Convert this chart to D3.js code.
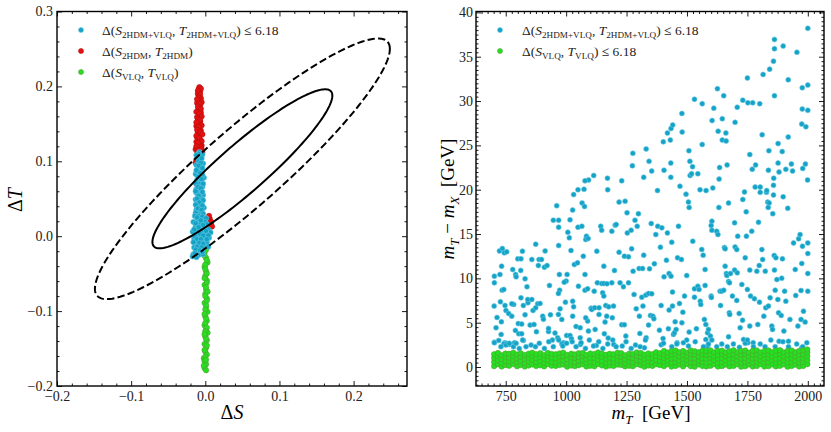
<!DOCTYPE html>
<html>
<head>
<meta charset="utf-8">
<script src="https://cdn.jsdelivr.net/npm/d3@7"></script>
<style>
body { margin: 0; background: #fff; }
text { font-family: "Liberation Serif", "DejaVu Serif", serif; white-space: pre; }
</style>
</head>
<body>
<svg id="chart" width="831" height="432"></svg>
<script>
// ---- left panel: oblique parameters S, T ----
// fit ellipse (centre, sigmas, correlation), chi2 levels: solid 2.30, dashed 6.18
var ellipseCenter = [0.05, 0.09];
var ellipseSigma = [0.08, 0.07];
var ellipseRho = 0.92;
var ellipseLevels = [2.30, 6.18];

var stRed = [[-0.008,0.199],[-0.009,0.196],[-0.007,0.193],[-0.010,0.190],[-0.008,0.187],[-0.006,0.184],[-0.009,0.181],[-0.011,0.178],
  [-0.007,0.175],[-0.009,0.172],[-0.010,0.168],[-0.006,0.165],[-0.008,0.162],[-0.011,0.159],[-0.009,0.156],[-0.007,0.153],[-0.010,0.150],
  [-0.012,0.147],[-0.008,0.144],[-0.006,0.141],[-0.010,0.138],[-0.009,0.135],[-0.011,0.132],[-0.007,0.129],[-0.012,0.126],[-0.008,0.123],
  [-0.005,0.121],[-0.010,0.118],[-0.013,0.116],[-0.007,0.114],[-0.004,0.112],[-0.011,0.110],[-0.008,0.106],[-0.012,0.102],[-0.006,0.098],
  [-0.013,0.098],[-0.010,0.085],[-0.012,0.070],[-0.009,0.055],[-0.011,0.040],[-0.008,0.025],[-0.006,0.010],[0.006,0.023],[0.008,0.019],
  [0.007,0.015],[0.005,0.027],[0.009,0.013],
  [-0.006,0.197],[-0.010,0.194],[-0.007,0.189],[-0.009,0.185],[-0.011,0.183],[-0.005,0.179],[-0.008,0.177],[-0.010,0.173],[-0.006,0.170],
  [-0.012,0.166],[-0.008,0.164],[-0.005,0.160],[-0.010,0.157],[-0.007,0.155],[-0.012,0.152],[-0.005,0.148],[-0.009,0.146],[-0.011,0.142],
  [-0.007,0.139],[-0.004,0.136],[-0.012,0.134],[-0.008,0.131],[-0.005,0.127],[-0.010,0.125],[-0.006,0.119],[-0.012,0.120],[-0.009,0.115],
  [-0.005,0.116]];

var stGreen = [[0.000,-0.008],[0.002,-0.015],[-0.001,-0.022],[0.001,-0.029],[0.003,-0.035],[-0.001,-0.041],[0.001,-0.047],[0.000,-0.053],
  [0.002,-0.059],[-0.001,-0.065],[0.001,-0.071],[0.000,-0.077],[0.002,-0.083],[-0.001,-0.089],[0.001,-0.095],[0.003,-0.101],[0.000,-0.107],
  [0.002,-0.113],[-0.001,-0.119],[0.001,-0.124],[0.003,-0.129],[0.000,-0.134],[0.002,-0.139],[-0.001,-0.144],[0.001,-0.149],[0.000,-0.154],
  [0.002,-0.158],[-0.002,-0.163],[-0.001,-0.167],[0.001,-0.171],[-0.001,-0.176],[0.001,-0.179],[0.001,-0.012],[0.000,-0.038],[0.002,-0.062],
  [0.001,-0.092],[0.000,-0.116],[0.002,-0.122],[-0.001,-0.152],
  [0.001,-0.018],[-0.001,-0.026],[0.002,-0.032],[0.000,-0.044],[0.002,-0.050],[-0.001,-0.056],[0.001,-0.068],[0.003,-0.074],[0.000,-0.080],
  [0.002,-0.086],[0.000,-0.098],[-0.001,-0.104],[0.001,-0.110],[0.000,-0.127],[-0.001,-0.131],[0.001,-0.137],[0.002,-0.146],[0.000,-0.161],
  [0.001,-0.165],[-0.002,-0.173]];

var stBlue = [[-0.008,0.112],[-0.004,0.109],[-0.011,0.106],[-0.006,0.103],[-0.009,0.100],[-0.003,0.097],[-0.012,0.095],[-0.007,0.092],
  [-0.010,0.089],[-0.005,0.086],[-0.013,0.083],[-0.008,0.080],[-0.002,0.078],[-0.011,0.075],[-0.006,0.072],[-0.009,0.069],[-0.004,0.066],
  [-0.012,0.063],[-0.007,0.060],[-0.010,0.057],[-0.003,0.055],[-0.008,0.052],[-0.013,0.049],[-0.005,0.046],[-0.010,0.043],[-0.007,0.040],
  [-0.002,0.038],[-0.012,0.035],[-0.006,0.032],[-0.009,0.030],[-0.009,0.110],[-0.006,0.098],[-0.011,0.087],[-0.004,0.082],[-0.008,0.070],
  [-0.012,0.058],[-0.005,0.050],[-0.008,0.036],
  [-0.012,0.108],[-0.005,0.104],[-0.009,0.094],[-0.004,0.091],[-0.012,0.088],[-0.007,0.084],[-0.010,0.079],[-0.005,0.076],[-0.013,0.071],
  [-0.003,0.070],[-0.010,0.066],[-0.006,0.064],[-0.013,0.060],[-0.004,0.059],[-0.009,0.054],[-0.011,0.050],[-0.003,0.048],[-0.008,0.045],
  [-0.013,0.042],[-0.004,0.041],[-0.010,0.037],[-0.005,0.035],[-0.013,0.031],[-0.003,0.030],[-0.009,0.027],
  [-0.014,0.027],[-0.004,0.026],[0.001,0.024],[-0.010,0.022],[-0.016,0.019],[0.000,0.019],[0.002,0.016],[-0.007,0.016],[-0.013,0.013],
  [-0.002,0.012],[0.004,0.009],[-0.010,0.008],[-0.017,0.006],[-0.005,0.006],[0.007,0.005],[0.001,0.003],[-0.012,0.001],[-0.008,-0.001],
  [-0.015,-0.003],[-0.002,-0.003],[0.005,-0.002],[-0.010,-0.006],[-0.005,-0.008],[0.002,-0.008],[-0.013,-0.010],[-0.008,-0.013],
  [-0.001,-0.013],[0.004,-0.014],[-0.015,-0.015],[-0.010,-0.018],[-0.004,-0.018],[-0.012,-0.021],[-0.006,-0.022],[-0.016,-0.024],
  [-0.009,-0.025],[-0.003,-0.024],[-0.017,-0.027],[-0.012,-0.028],
  [-0.011,0.025],[-0.006,0.021],[-0.013,0.017],[-0.003,0.015],[-0.009,0.012],[-0.015,0.009],[0.001,0.007],[-0.007,0.003],[-0.003,0.001],
  [0.004,0.001],[-0.014,0.000],[-0.011,-0.004],[-0.006,-0.004],[0.002,-0.004],[-0.016,-0.008],[-0.008,-0.009],[-0.003,-0.010],
  [-0.011,-0.014],[-0.005,-0.015],[-0.013,-0.018],[-0.007,-0.019],[-0.014,-0.023],[-0.004,-0.021]];

var stXTicks = [-0.2, -0.1, 0.0, 0.1, 0.2];
var stYTicks = [-0.2, -0.1, 0.0, 0.1, 0.2, 0.3];

// ---- right panel: mass splitting m_T - m_X vs m_T ----
var massBlue = [[2000,38.2],[1862,36.95],[1862,35.9],[1898,36.2],[1858,34.5],[1842,33.6],[1815,33.0],[1955,35.5],[1862,30.6],[1750,32.6],
  [1919,32.4],[1977,31.5],[2000,31.8],[1977,29.1],[2000,28.95],[1975,27.4],[1992,27.1],[1626,31.4],[1652,30.6],[1531,30.2],[1563,29.7],
  [1731,30.1],[1752,29.8],[1772,29.8],[1801,29.7],[1708,29.3],[1611,29.2],[1479,28.6],[1604,27.8],[1646,28.0],[1699,27.6],[1629,26.6],
  [1661,26.4],[1646,25.6],[1662,25.5],[1480,26.5],[1434,26.9],[1441,27.3],[1419,26.4],[1431,25.6],[1402,25.4],[1811,26.2],[1919,25.95],
  [1877,25.2],[1894,24.3],[1839,24.4],[1760,23.96],[1563,25.1],[1276,24.1],[1331,24.6],[1274,22.7],[1343,23.2],[1354,22.1],[1321,21.4],
  [1508,24.4],[1512,23.2],[1523,22.6],[1513,21.6],[1519,21.8],[1545,21.8],[1433,23.0],[1433,21.4],[1405,22.2],[1635,22.5],[1666,22.8],
  [1633,21.2],[1770,22.3],[1784,22.8],[1877,23.0],[1881,22.0],[1859,21.3],[1909,22.3],[1932,22.9],[1937,22.1],[1990,22.9],[1979,22.4],
  [1999,21.1],[1837,22.2],[1171,21.3],[1172,20.0],[1230,21.0],[1114,21.6],[1093,21.1],[1078,21.0],[1074,20.05],[1049,20.0],[1031,19.45],
  [1027,17.7],[1066,18.5],[1076,18.1],[961,18.2],[1219,18.6],[1244,18.7],[1252,17.4],[1299,17.3],[1378,19.9],[1471,20.4],[1496,19.5],
  [1506,18.6],[1509,18.0],[1554,20.0],[1579,19.9],[1607,20.2],[1632,18.0],[1672,18.5],[1731,18.9],[1738,19.75],[1745,17.5],[1782,20.3],
  [1803,19.7],[1803,20.3],[1829,19.7],[1830,19.9],[1834,18.6],[1840,18.5],[1836,18.0],[1858,19.4],[1855,17.3],[1858,20.5],[1898,19.2],
  [1917,17.9],
  [703,10.25],[703,9.5],[702,6.87],[714,5.59],[710,4.43],[703,2.8],[724,13.1],[736,13.37],[744,12.88],[733,11.38],[726,10.44],[735,8.67],
  [742,8.75],[728,7.36],[732,5.1],[731,3.68],[747,6.94],[751,6.38],[762,6.04],[775,5.74],[754,12.99],[746,2.74],[754,2.66],[742,2.6],
  [765,2.55],[786,2.74],[779,11.0],[791,10.44],[793,10.17],[800,12.2],[813,12.2],[819,13.07],[790,4.13],[802,4.9],[804,3.75],[783,7.06],
  [775,7.13],[812,10.9],[813,7.8],[823,6.94],[816,4.84],[816,3.75],[823,3.0],[830,9.95],[838,9.05],[842,7.25],[841,7.62],[830,5.89],
  [851,4.73],[858,7.62],[858,12.13],[874,13.86],[867,4.8],[863,6.38],[874,6.68],[877,3.98],[882,7.13],[885,11.45],[888,12.13],[892,7.17],
  [898,12.13],[903,5.74],[906,5.4],[913,13.1],[910,11.26],[921,11.45],[927,4.0],[927,4.35],[931,9.2],[935,5.89],[943,3.04],[947,16.56],
  [969,16.56],[969,15.77],[969,13.7],[972,10.44],[973,8.67],[968,8.3],[975,6.57],[968,5.93],[982,5.37],[954,3.83],[965,3.3],[989,2.74],
  [982,2.62],[997,7.32],[1000,9.69],[1004,10.44],[992,9.57],[1007,15.2],[1013,14.57],[1016,16.6],[1020,13.14],[1002,3.56],[1016,3.56],
  [1022,3.19],[1027,7.43],[1031,6.79],[1034,11.56],[1027,5.74],[1047,11.75],[1041,4.58],[1051,9.12],[1049,15.77],[1065,15.88],[1058,4.43],
  [1059,2.55],[1058,3.3],[1071,12.5],[1078,10.44],[1081,14.38],[1084,14.76],[1091,14.49],[1078,8.67],[1089,8.82],[1089,5.18],[1081,5.55],
  [1092,4.05],[1103,6.64],[1106,6.49],[1118,6.68],[1127,13.07],[1129,9.5],[1116,8.56],[1120,4.24],[1125,2.44],[1136,6.68],[1136,5.93],
  [1143,15.88],[1147,15.43],[1147,9.42],[1151,8.37],[1156,8.0],[1156,11.38],[1156,9.42],[1161,5.07],[1168,5.74],[1169,9.39],[1164,6.94],
  [1176,6.79],[1158,3.75],[1174,3.26],[1189,15.32],[1189,9.5],[1191,5.55],[1196,6.87],[1200,10.89],[1197,2.55],[1203,16.0],[1207,16.07],
  [1219,12.95],[1223,9.5],[1230,4.77],[1241,4.77],[1237,9.05],[1241,12.5],[1247,3.49],[1258,9.5],[1258,12.43],[1253,15.13],[1269,15.43],
  [1271,13.33],[1277,10.81],[1281,8.18],[1285,16.56],[1294,15.88],[1290,6.57],[1302,11.11],[1303,5.74],[1305,3.79],[1316,11.11],[1313,7.88],
  [1318,6.87],[1321,12.62],[1324,2.17],[1330,8.11],[1331,3.3],[1341,8.3],[1341,4.73],[1349,5.82],[1352,16.18],[1345,11.08],[1354,8.26],
  [1359,5.74],[1363,5.44],[1365,11.64],[1371,14.94],[1379,15.88],[1386,4.16],[1390,13.52],[1393,6.94],[1396,15.7],[1393,2.51],[1401,3.22],
  [1405,10.17],[1415,12.05],[1419,15.13],[1426,6.42],[1423,4.32],[1426,10.55],[1434,10.25],[1440,8.45],[1440,6.87],[1437,14.08],[1444,3.68],
  [1448,3.86],[1451,5.1],[1455,4.24],[1459,2.74],[1461,12.32],[1465,15.88],[1469,7.17],[1477,12.13],[1479,4.99],[1483,6.19],[1490,8.0],
  [1499,10.32],[1499,3.04],[1509,3.94],[1524,14.19],[1531,7.88],[1531,8.82],[1539,4.32],[1545,9.12],[1550,8.75],[1555,7.43],[1557,7.06],
  [1561,13.26],[1567,12.62],[1572,5.37],[1575,9.2],[1575,11.0],[1578,4.8],[1585,2.36],[1578,3.11],[1585,3.86],[1589,4.24],[1600,8.0],
  [1601,7.85],[1603,16.45],[1603,15.43],[1600,15.96],[1597,3.49],[1623,15.32],[1628,14.94],[1637,8.56],[1644,8.56],[1639,6.94],[1652,8.67],
  [1655,13.48],[1658,13.33],[1658,11.38],[1663,10.55],[1665,10.32],[1672,9.65],[1675,6.12],[1672,3.41],[1677,5.93],[1676,9.5],[1680,10.55],
  [1688,8.0],[1697,10.93],[1697,16.26],[1699,13.55],[1706,13.25],[1706,7.51],[1710,14.76],[1708,10.62],[1716,6.04],[1720,4.43],[1727,9.31],
  [1730,5.29],[1734,3.11],[1741,12.32],[1746,14.76],[1750,8.75],[1752,2.74],[1760,10.93],[1760,4.62],[1763,8.0],[1768,15.32],[1774,2.74],
  [1779,7.7],[1789,10.81],[1793,4.8],[1796,16.33],[1799,11.45],[1800,7.32],[1810,13.25],[1824,10.81],[1813,12.13],[1818,5.74],[1826,6.68],
  [1837,6.87],[1844,7.81],[1851,4.62],[1854,4.24],[1861,12.58],[1868,12.32],[1862,10.93],[1872,9.87],[1876,7.62],[1865,8.67],[1879,6.12],
  [1881,2.9],[1890,5.82],[1892,10.02],[1895,12.2],[1901,4.05],[1904,8.56],[1909,7.43],[1920,2.9],[1926,5.37],[1941,14.0],[1948,11.0],
  [1950,8.07],[1959,4.62],[1962,14.46],[1968,14.94],[1972,8.63],[1975,11.68],[1978,13.63],[1982,6.3],[1972,5.37],[1989,5.07],[2000,14.0],
  [2000,12.8],[2000,10.55],[2000,8.56],[1975,2.17],
  [703,2.74],[721,3.0],[730,2.3],[751,2.48],[765,2.67],[782,2.3],[793,2.67],[806,2.1],[820,3.04],[834,2.3],[855,2.48],[873,2.3],[889,2.67],
  [910,2.1],[928,2.86],[947,2.3],[969,3.04],[986,2.37],[1002,2.67],[1025,2.86],[1041,2.3],[1062,2.74],[1080,2.1],[1096,3.04],[1113,2.37],
  [1135,2.86],[1152,2.1],[1172,2.6],[1193,3.04],[1207,2.3],[1232,2.37],[1248,2.86],[1269,2.1],[1287,2.48],[1306,2.3],[1328,3.04],[1403,2.67],
  [1437,2.3],[1458,2.6],[1485,2.74],[1506,2.37],[1534,2.86],[1568,2.3],[1589,2.6],[1603,3.04],[1623,2.3],[1644,2.6],[1667,2.3],[1692,2.6],
  [1717,2.22],[1741,2.67],[1750,3.04],[1775,2.3],[1803,2.6],[1823,2.3],[1847,3.04],[1865,2.3],[1897,2.86],[1920,2.3],[1954,2.6],[1979,2.3],
  [1996,2.74]];

var massGreen = [
  [702,0.10],[702,0.56],[702,1.02],[702,1.44],[718,0.31],[718,0.78],[718,1.24],[718,1.58],[733,0.06],[733,0.47],[733,0.91],[733,1.33],
  [749,0.21],[749,0.69],[749,1.14],[749,1.52],[764,0.14],[764,0.62],[764,1.06],[764,1.49],[781,0.33],[781,0.79],[781,1.22],[781,1.61],
  [797,0.09],[797,0.54],[797,0.99],[797,1.42],[812,0.22],[812,0.71],[812,1.16],[812,1.55],[829,0.05],[829,0.44],[829,0.88],[829,1.36],
  [845,0.17],[845,0.61],[845,1.04],[845,1.51],[860,0.29],[860,0.81],[860,1.27],[860,1.62],[876,0.11],[876,0.57],[876,1.01],[876,1.46],
  [893,0.19],[893,0.68],[893,1.13],[893,1.56],[909,0.07],[909,0.46],[909,0.92],[909,1.34],[924,0.32],[924,0.82],[924,1.26],[924,1.59],
  [940,0.15],[940,0.59],[940,1.07],[940,1.48],[957,0.12],[957,0.53],[957,0.98],[957,1.45],[973,0.23],[973,0.72],[973,1.17],[973,1.54],
  [988,0.28],[988,0.77],[988,1.23],[988,1.63],[1004,0.04],[1004,0.43],[1004,0.89],[1004,1.37],[1021,0.16],[1021,0.63],[1021,1.08],[1021,1.50],
  [1036,0.10],[1036,0.55],[1036,1.03],[1036,1.43],[1052,0.20],[1052,0.70],[1052,1.12],[1052,1.57],[1069,0.30],[1069,0.80],[1069,1.25],[1069,1.60],
  [1084,0.06],[1084,0.48],[1084,0.90],[1084,1.35],[1100,0.13],[1100,0.60],[1100,1.05],[1100,1.52],[1117,0.08],[1117,0.52],[1117,1.00],[1117,1.47],
  [1132,0.34],[1132,0.83],[1132,1.28],[1132,1.64],[1148,0.18],[1148,0.67],[1148,1.15],[1148,1.53],[1165,0.05],[1165,0.45],[1165,0.93],[1165,1.38],
  [1180,0.16],[1180,0.58],[1180,1.06],[1180,1.49],[1196,0.11],[1196,0.57],[1196,0.97],[1196,1.44],[1213,0.27],[1213,0.76],[1213,1.21],[1213,1.62],
  [1228,0.22],[1228,0.73],[1228,1.18],[1228,1.56],[1244,0.07],[1244,0.42],[1244,0.87],[1244,1.33],[1261,0.14],[1261,0.64],[1261,1.09],[1261,1.51],
  [1276,0.09],[1276,0.55],[1276,1.02],[1276,1.46],[1292,0.31],[1292,0.79],[1292,1.26],[1292,1.65],[1309,0.19],[1309,0.71],[1309,1.13],[1309,1.58],
  [1324,0.04],[1324,0.46],[1324,0.91],[1324,1.39],[1340,0.17],[1340,0.62],[1340,1.04],[1340,1.53],[1357,0.12],[1357,0.54],[1357,1.01],[1357,1.45],
  [1372,0.30],[1372,0.81],[1372,1.24],[1372,1.66],[1388,0.21],[1388,0.69],[1388,1.16],[1388,1.57],
  [1405,0.10],[1405,0.56],[1405,1.01],[1405,1.44],[1405,1.82],[1420,0.31],[1420,0.76],[1420,1.21],[1420,1.64],[1436,0.05],[1436,0.51],[1436,0.96],
  [1436,1.41],[1436,1.79],[1453,0.12],[1453,0.57],[1453,0.99],[1453,1.46],[1453,1.86],[1468,0.28],[1468,0.74],[1468,1.19],[1468,1.66],[1484,0.07],
  [1484,0.49],[1484,0.94],[1484,1.39],[1484,1.81],[1501,0.32],[1501,0.77],[1501,1.22],[1501,1.63],[1516,0.09],[1516,0.54],[1516,1.02],[1516,1.45],
  [1516,1.87],[1532,0.04],[1532,0.50],[1532,0.97],[1532,1.42],[1532,1.78],[1549,0.29],[1549,0.73],[1549,1.18],[1549,1.67],[1564,0.11],[1564,0.58],
  [1564,1.00],[1564,1.47],[1564,1.84],[1580,0.06],[1580,0.52],[1580,0.93],[1580,1.40],[1580,1.80],[1597,0.13],[1597,0.55],[1597,1.03],[1597,1.43],
  [1597,1.88],[1612,0.30],[1612,0.78],[1612,1.20],[1612,1.65],[1628,0.05],[1628,0.48],[1628,0.95],[1628,1.38],[1628,1.82],[1645,0.10],[1645,0.57],
  [1645,0.99],[1645,1.46],[1645,1.85],[1660,0.27],[1660,0.75],[1660,1.23],[1660,1.64],[1676,0.07],[1676,0.51],[1676,0.96],[1676,1.41],[1676,1.79],
  [1693,0.12],[1693,0.54],[1693,1.01],[1693,1.44],[1693,1.89],[1708,0.31],[1708,0.76],[1708,1.19],[1708,1.66],[1724,0.04],[1724,0.49],[1724,0.94],
  [1724,1.40],[1724,1.81],[1741,0.09],[1741,0.56],[1741,1.02],[1741,1.47],[1741,1.86],[1756,0.28],[1756,0.74],[1756,1.22],[1756,1.63],[1772,0.06],
  [1772,0.50],[1772,0.97],[1772,1.39],[1772,1.83],[1789,0.11],[1789,0.58],[1789,1.00],[1789,1.45],[1789,1.88],[1804,0.32],[1804,0.77],[1804,1.21],
  [1804,1.65],[1820,0.05],[1820,0.52],[1820,0.95],[1820,1.42],[1820,1.80],[1837,0.10],[1837,0.55],[1837,1.03],[1837,1.44],[1837,1.87],[1852,0.29],
  [1852,0.75],[1852,1.18],[1852,1.67],[1868,0.07],[1868,0.48],[1868,0.93],[1868,1.41],[1868,1.84],[1885,0.13],[1885,0.57],[1885,0.99],[1885,1.46],
  [1885,1.90],[1900,0.30],[1900,0.79],[1900,1.23],[1900,1.64],[1916,0.04],[1916,0.51],[1916,0.96],[1916,1.38],[1916,1.82],[1933,0.11],[1933,0.54],
  [1933,1.02],[1933,1.47],[1933,1.86],[1948,0.27],[1948,0.73],[1948,1.20],[1948,1.66],[1964,0.06],[1964,0.50],[1964,0.94],[1964,1.40],[1964,1.81],
  [1981,0.12],[1981,0.56],[1981,1.01],[1981,1.45],[1981,1.89],[1998,0.31],[1998,0.76],[1998,1.22],[1998,1.65],[1998,1.98]];

var massXTicks = [750, 1000, 1250, 1500, 1750, 2000];
var massYTicks = [0, 5, 10, 15, 20, 25, 30, 35, 40];

var colBlue = "#14a2c6", edgeBlue = "#66c9e2";
var colRed = "#e5100f", edgeRed = "#b31111";
var colGreen = "#25e01f", edgeGreen = "#55a038";

var svg = d3.select("#chart");
var serif = "'Liberation Serif', 'DejaVu Serif', serif";

// scales
var sx = d3.scaleLinear().domain([-0.2, 0.272]).range([57, 407]);
var sy = d3.scaleLinear().domain([-0.2, 0.3]).range([386, 11.5]);
var mx = d3.scaleLinear().domain([627, 2067]).range([476, 824]);
var my = d3.scaleLinear().domain([-2.14, 40.1]).range([386, 11.5]);

// inward ticks on one side
function tickSide(axisFn, scale, tr, vals, size, fmt, pad) {
    var a = axisFn(scale).tickValues(vals).tickSizeInner(-size).tickSizeOuter(0)
        .tickPadding(pad || 4).tickFormat(fmt || (() => ""));
    var g = svg.append("g").attr("transform", tr).call(a)
        .attr("font-family", serif).attr("font-size", 14);
    g.select(".domain").remove();
    g.selectAll("line").attr("stroke", "#000").attr("stroke-width", 0.9);
    g.selectAll("text").attr("fill", "#222");
}

function frame(x, y, xMajor, xMinor, yMajor, yMinor, xFmt, yFmt, yPad) {
    var x0 = x.range()[0], x1 = x.range()[1], y0 = y.range()[1], y1 = y.range()[0];
    tickSide(d3.axisBottom, x, "translate(0," + y1 + ")", xMinor, 2.5);
    tickSide(d3.axisTop, x, "translate(0," + y0 + ")", xMinor, 2.5);
    tickSide(d3.axisLeft, y, "translate(" + x0 + ",0)", yMinor, 2.5);
    tickSide(d3.axisRight, y, "translate(" + x1 + ",0)", yMinor, 2.5);
    tickSide(d3.axisBottom, x, "translate(0," + y1 + ")", xMajor, 5, xFmt, 5);
    tickSide(d3.axisTop, x, "translate(0," + y0 + ")", xMajor, 5);
    tickSide(d3.axisLeft, y, "translate(" + x0 + ",0)", yMajor, 5, yFmt, yPad);
    tickSide(d3.axisRight, y, "translate(" + x1 + ",0)", yMajor, 5);
    svg.append("rect").attr("x", x0).attr("y", y0).attr("width", x1 - x0).attr("height", y1 - y0)
        .attr("fill", "none").attr("stroke", "#000").attr("stroke-width", 1.4);
}

// text with italic symbols and subscripts
function richText(t, parts, size) {
    var down = false;
    parts.forEach(p => {
        var sub = p[1].indexOf("s") >= 0;
        var ts = t.append("tspan").text(p[0])
            .attr("font-size", sub ? size * 0.68 : size)
            .attr("font-style", p[1].indexOf("i") >= 0 ? "italic" : "normal");
        if (sub && !down) { ts.attr("dy", size * 0.25); down = true; }
        else if (!sub && down) { ts.attr("dy", -size * 0.25); down = false; }
    });
    return t;
}

function dots(data, x, y, fill, edge, r) {
    svg.append("g").selectAll("circle").data(data).enter().append("circle")
        .attr("cx", d => x(d[0])).attr("cy", d => y(d[1])).attr("r", r)
        .attr("fill", fill).attr("stroke", edge).attr("stroke-width", 0.6);
}

// ---------- left panel ----------
var stMinorX = d3.range(-10, 14).filter(i => i % 5 != 0).map(i => i * 0.02);
var stMinorY = d3.range(-10, 16).filter(i => i % 5 != 0).map(i => i * 0.02);

dots(stRed, sx, sy, colRed, edgeRed, 2.7);
dots(stGreen, sx, sy, colGreen, edgeGreen, 2.7);
dots(stBlue, sx, sy, colBlue, edgeBlue, 2.7);

var line = d3.line().x(d => sx(d[0])).y(d => sy(d[1])).curve(d3.curveLinearClosed);
ellipseLevels.forEach((lv, i) => {
    var k = Math.sqrt(lv);
    var pts = d3.range(0, 360, 2).map(a => {
        var t = a * Math.PI / 180;
        return [ellipseCenter[0] + k * ellipseSigma[0] * Math.cos(t),
                ellipseCenter[1] + k * ellipseSigma[1] * (ellipseRho * Math.cos(t) + Math.sqrt(1 - ellipseRho * ellipseRho) * Math.sin(t))];
    });
    svg.append("path").attr("d", line(pts)).attr("fill", "none").attr("stroke", "#000")
        .attr("stroke-width", 2).attr("stroke-dasharray", i == 0 ? null : "7.4,3.2");
});

frame(sx, sy, stXTicks, stMinorX, stYTicks, stMinorY, d3.format(".1f"), d3.format(".1f"), 4);

richText(svg.append("text").attr("x", 232).attr("y", 419).attr("text-anchor", "middle"),
    [["Δ", ""], ["S", "i"]], 20);
richText(svg.append("text").attr("transform", "translate(22,200) rotate(-90)").attr("text-anchor", "middle"),
    [["Δ", ""], ["T", "i"]], 20);

// legend
var legLeft = [
    [colBlue, edgeBlue, [["Δ(", ""], ["S", "i"], ["2HDM+VLQ", "s"], [", ", ""], ["T", "i"], ["2HDM+VLQ", "s"], [") ≤ 6.18", ""]]],
    [colRed, edgeRed, [["Δ(", ""], ["S", "i"], ["2HDM", "s"], [", ", ""], ["T", "i"], ["2HDM", "s"], [")", ""]]],
    [colGreen, edgeGreen, [["Δ(", ""], ["S", "i"], ["VLQ", "s"], [", ", ""], ["T", "i"], ["VLQ", "s"], [")", ""]]]
];
legLeft.forEach((l, i) => {
    svg.append("circle").attr("cx", 81).attr("cy", 30 + i * 21).attr("r", 2.5)
        .attr("fill", l[0]).attr("stroke", l[1]).attr("stroke-width", 0.6);
    richText(svg.append("text").attr("x", 102).attr("y", 35 + i * 21).attr("fill", "#222"), l[2], 13.5);
});

// ---------- right panel ----------
var mMinorX = d3.range(650, 2051, 25).filter(v => v % 250 != 0);
var mMinorY = d3.range(-4, 81).filter(i => i % 10 != 0).map(i => i * 0.5);

dots(massBlue, mx, my, colBlue, edgeBlue, 2.5);
dots(massGreen, mx, my, colGreen, edgeGreen, 2.7);

frame(mx, my, massXTicks, mMinorX, massYTicks, mMinorY, d3.format("d"), d3.format("d"), 3);

richText(svg.append("text").attr("x", 651).attr("y", 419).attr("text-anchor", "middle"),
    [["m", "i"], ["T", "is"], ["  [GeV]", ""]], 19);
richText(svg.append("text").attr("transform", "translate(454,199) rotate(-90)").attr("text-anchor", "middle"),
    [["m", "i"], ["T", "is"], [" − ", ""], ["m", "i"], ["X", "is"], ["  [GeV]", ""]], 19);

var legRight = [
    [colBlue, edgeBlue, [["Δ(", ""], ["S", "i"], ["2HDM+VLQ", "s"], [", ", ""], ["T", "i"], ["2HDM+VLQ", "s"], [") ≤ 6.18", ""]]],
    [colGreen, edgeGreen, [["Δ(", ""], ["S", "i"], ["VLQ", "s"], [", ", ""], ["T", "i"], ["VLQ", "s"], [") ≤ 6.18", ""]]]
];
legRight.forEach((l, i) => {
    svg.append("circle").attr("cx", 500).attr("cy", 30 + i * 21).attr("r", 2.5)
        .attr("fill", l[0]).attr("stroke", l[1]).attr("stroke-width", 0.6);
    richText(svg.append("text").attr("x", 522).attr("y", 35 + i * 21).attr("fill", "#222"), l[2], 13.5);
});
</script>
</body>
</html>
